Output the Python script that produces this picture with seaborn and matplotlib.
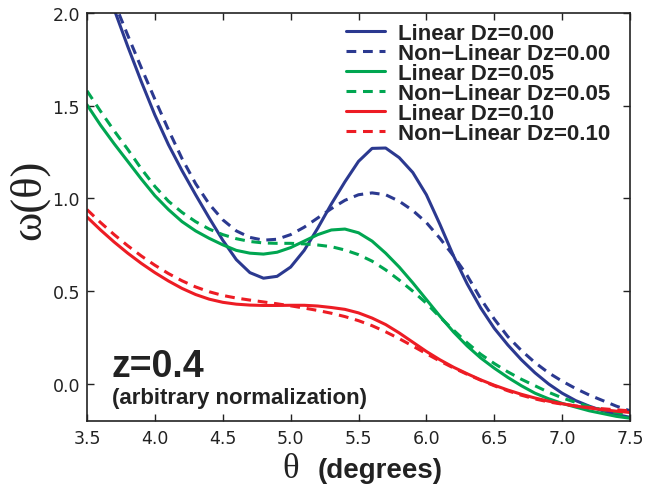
import matplotlib
matplotlib.use("Agg")
import matplotlib.pyplot as plt
import seaborn as sns
import pandas as pd

theta = [3.5, 3.6, 3.7, 3.8, 3.9, 4.0, 4.1, 4.2, 4.3, 4.4, 4.5, 4.6, 4.7, 4.8, 4.9,
         5.0, 5.1, 5.2, 5.3, 5.4, 5.5, 5.6, 5.7, 5.8, 5.9, 6.0, 6.1, 6.2, 6.3, 6.4,
         6.5, 6.6, 6.7, 6.8, 6.9, 7.0, 7.1, 7.2, 7.3, 7.4, 7.5]

lin_000 = [2.45, 2.23, 2.02, 1.82, 1.63, 1.45, 1.29, 1.15, 1.02, 0.895, 0.775, 0.67, 0.60, 0.57, 0.58,
           0.63, 0.72, 0.84, 0.97, 1.09, 1.20, 1.27, 1.272, 1.22, 1.14, 1.02, 0.86, 0.69, 0.54, 0.41,
           0.30, 0.21, 0.13, 0.06, 0.0, -0.05, -0.09, -0.12, -0.145, -0.165, -0.18]
nl_000 = [2.42, 2.24, 2.06, 1.88, 1.705, 1.535, 1.37, 1.215, 1.08, 0.97, 0.885, 0.825, 0.79, 0.775, 0.78,
          0.805, 0.845, 0.895, 0.945, 0.99, 1.02, 1.03, 1.02, 0.985, 0.935, 0.87, 0.785, 0.69, 0.585, 0.46,
          0.35, 0.255, 0.18, 0.115, 0.06, 0.015, -0.025, -0.06, -0.09, -0.12, -0.145]
lin_005 = [1.505, 1.395, 1.295, 1.20, 1.105, 1.015, 0.94, 0.875, 0.825, 0.785, 0.75, 0.72, 0.705, 0.70, 0.71,
           0.735, 0.77, 0.805, 0.83, 0.835, 0.815, 0.77, 0.705, 0.63, 0.545, 0.455, 0.365, 0.28, 0.205, 0.14,
           0.085, 0.035, -0.01, -0.05, -0.08, -0.105, -0.125, -0.145, -0.16, -0.175, -0.185]
nl_005 = [1.58, 1.47, 1.365, 1.265, 1.16, 1.065, 0.985, 0.925, 0.875, 0.835, 0.805, 0.783, 0.768, 0.76, 0.758,
          0.758, 0.755, 0.749, 0.74, 0.722, 0.697, 0.662, 0.615, 0.56, 0.50, 0.435, 0.36, 0.29, 0.222, 0.16,
          0.11, 0.065, 0.025, -0.01, -0.045, -0.075, -0.10, -0.122, -0.14, -0.155, -0.168]
lin_010 = [0.90, 0.83, 0.765, 0.705, 0.65, 0.60, 0.555, 0.515, 0.482, 0.457, 0.44, 0.43, 0.425, 0.423, 0.423,
           0.424, 0.424, 0.42, 0.412, 0.402, 0.383, 0.355, 0.32, 0.275, 0.225, 0.175, 0.13, 0.09, 0.055, 0.022,
           -0.007, -0.033, -0.056, -0.076, -0.093, -0.107, -0.119, -0.13, -0.139, -0.147, -0.154]
nl_010 = [0.94, 0.87, 0.805, 0.745, 0.69, 0.64, 0.595, 0.556, 0.523, 0.497, 0.477, 0.463, 0.452, 0.442, 0.432,
          0.421, 0.409, 0.396, 0.381, 0.363, 0.341, 0.314, 0.281, 0.244, 0.204, 0.163, 0.123, 0.086, 0.052, 0.02,
          -0.01, -0.037, -0.061, -0.081, -0.097, -0.109, -0.119, -0.127, -0.134, -0.14, -0.145]

labels = ["Linear Dz=0.00", "Non\u2212Linear Dz=0.00",
          "Linear Dz=0.05", "Non\u2212Linear Dz=0.05",
          "Linear Dz=0.10", "Non\u2212Linear Dz=0.10"]
series = [lin_000, nl_000, lin_005, nl_005, lin_010, nl_010]
colors = ["#2b3990", "#2b3990", "#00a651", "#00a651", "#ed1c24", "#ed1c24"]
dashed = [False, True, False, True, False, True]

sns.set_style("ticks")
plt.rcParams["font.family"] = ["DejaVu Sans"]

fig = plt.figure(figsize=(6.46, 4.85), dpi=100)
ax = fig.add_axes([87 / 646, 1 - 422 / 485, 543 / 646, 408 / 485])

for lab, vals, col, dsh in zip(labels, series, colors, dashed):
    df = pd.DataFrame({"theta": theta, "w": vals})
    sns.lineplot(data=df, x="theta", y="w", ax=ax, color=col, lw=2.2,
                 linestyle="--" if dsh else "-", label=lab)
    ax.lines[-1].set_solid_joinstyle("round")
    if dsh:
        ax.lines[-1].set_dashes((3.2, 2.2))

ax.set_xlim(3.5, 7.5)
ax.set_ylim(-0.2, 2.0)
ax.set_xticks([3.5, 4.0, 4.5, 5.0, 5.5, 6.0, 6.5, 7.0, 7.5])
ax.set_yticks([0.0, 0.5, 1.0, 1.5, 2.0])
ax.set_xlabel("")
ax.set_ylabel("")
ax.tick_params(direction="in", length=5, width=1, top=True, right=True,
               labelsize=12.5, colors="#222222")
ax.tick_params(axis="x", pad=6)
ax.tick_params(axis="y", pad=5)
for s in ax.spines.values():
    s.set_linewidth(1.2)
    s.set_color("#222222")

leg = ax.legend(loc="upper left", bbox_to_anchor=(0.477, 0.975), frameon=False,
                borderpad=0, borderaxespad=0, labelspacing=-0.05,
                handlelength=1.75, handletextpad=0.6,
                prop={"family": "Liberation Sans", "weight": "bold", "size": 16})
for t in leg.get_texts():
    t.set_color("#222222")

ax.text(0.046, 0.11, "z=0.4", transform=ax.transAxes, fontsize=27,
        fontweight="bold", family="Liberation Sans", color="#222222", va="baseline")
ax.text(0.046, 0.045, "(arbitrary normalization)", transform=ax.transAxes, fontsize=16,
        fontweight="bold", family="Liberation Sans", color="#222222", va="baseline")

fig.text(29 / 646, 1 - 200 / 485, "\u03c9(\u03b8)", rotation=90, ha="center", va="center",
         fontsize=32, family="Liberation Serif", color="#222222")
fig.text(291 / 646, 1 - 478 / 485, "\u03b8", ha="center", va="baseline",
         fontsize=25, family="Liberation Serif", color="#222222")
fig.text(318 / 646, 1 - 478 / 485, "(degrees)", ha="left", va="baseline",
         fontsize=20, fontweight="bold", family="Liberation Sans", color="#222222")

fig.savefig("out.png", dpi=100)
